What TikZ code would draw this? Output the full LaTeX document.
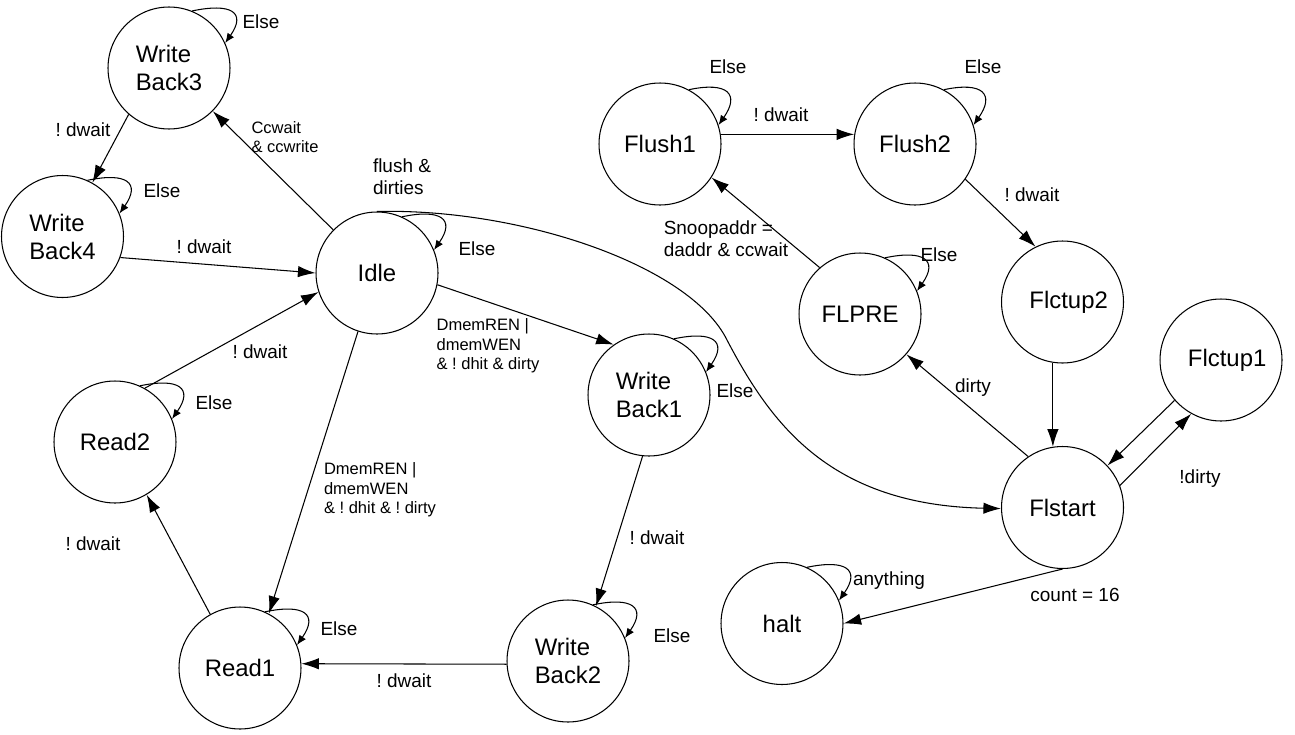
\documentclass[tikz,border=0pt]{standalone}
\usepackage{fontspec}
\setmainfont{Liberation Sans}
\usetikzlibrary{arrows.meta}
\frenchspacing

\begin{document}
\begin{tikzpicture}[x = 0.02cm, y = -0.02cm, line width = 0.6pt,
    state/.style = {shape = circle, draw, minimum size = 2.44cm, inner sep = 0pt, align = left, font = \fontsize{13.6}{15.9}\selectfont},
    trans/.style = {-{Latex[length = 10pt, width = 6.5pt]}},
    selfloop/.style = {-{Latex[length = 5.5pt, width = 4.5pt]}},
    lbl/.style = {font = \fontsize{10.8}{12.5}\selectfont, align = left, inner sep = 0pt},
    small/.style = {font = \fontsize{9.4}{11}\selectfont, align = left, inner sep = 0pt}]
    \useasboundingbox (0,0) rectangle (1295,734);

    \node[state] (WB3) at (169,68) {Write\\Back3};
    \node[state] (WB4) at (62.5,236.5) {Write\\Back4};
    \node[state] (IDLE) at (377,273) {Idle};
    \node[state] (RD2) at (115,442) {Read2};
    \node[state] (RD1) at (240,668) {Read1};
    \node[state] (WB1) at (649,395) {Write\\Back1};
    \node[state] (WB2) at (568,661) {Write\\Back2};
    \node[state] (FL1) at (660,144) {Flush1};
    \node[state] (FL2) at (915,144) {Flush2};
    \node[state] (FLPRE) at (860,314) {FLPRE};
    \node[state] (FC2) at (1062.5,302) {\hspace{7pt}Flctup2};
    \node[state] (FC1) at (1221,360) {\hspace{7pt}Flctup1};
    \node[state] (FLS) at (1062.5,507.5) {Flstart};
    \node[state] (HALT) at (782,623.5) {halt};

    \draw[selfloop] (WB3.68) .. controls +(12:0.8cm) and +(55:0.75cm) .. (WB3.24);
    \draw[selfloop] (WB4.66) .. controls +(12:0.8cm) and +(55:0.75cm) .. (WB4.22);
    \draw[selfloop] (IDLE.66) .. controls +(12:0.8cm) and +(55:0.75cm) .. (IDLE.22);
    \draw[selfloop] (RD2.66) .. controls +(12:0.8cm) and +(55:0.75cm) .. (RD2.22);
    \draw[selfloop] (RD1.66) .. controls +(12:0.8cm) and +(55:0.75cm) .. (RD1.22);
    \draw[selfloop] (WB1.66) .. controls +(12:0.8cm) and +(55:0.75cm) .. (WB1.22);
    \draw[selfloop] (WB2.66) .. controls +(12:0.8cm) and +(55:0.75cm) .. (WB2.22);
    \draw[selfloop] (FL1.62) .. controls +(12:0.8cm) and +(55:0.75cm) .. (FL1.18);
    \draw[selfloop] (FL2.62) .. controls +(12:0.8cm) and +(55:0.75cm) .. (FL2.18);
    \draw[selfloop] (FLPRE.66) .. controls +(12:0.8cm) and +(55:0.75cm) .. (FLPRE.22);
    \draw[selfloop] (HALT.66) .. controls +(12:0.8cm) and +(55:0.75cm) .. (HALT.22);

    \draw[trans] (WB3.229) -- (WB4.61);
    \draw[trans] (IDLE) -- (WB3);
    \draw[trans] (WB4.-20) -- (IDLE.180);
    \draw[trans] (RD2.61) -- (IDLE.198);
    \draw[trans] (IDLE.252) -- (RD1.62);
    \draw[trans] (RD1.119) -- (RD2.301);
    \draw[trans] (WB2.183) -- (RD1.4);
    \draw[trans] (WB1.264) -- (WB2.63);
    \draw[trans] (IDLE.-11) -- (WB1.125);
    \coordinate (BEND) at (727,340);
    \draw[trans] (IDLE.90) .. controls (520,208) and (690,265) .. (BEND)
        .. controls (771,424) and (830,505) .. (FLS.181);
    \draw[trans] (FL1.9) -- (FL2.171);
    \draw[trans] (FL2.-35) -- (FC2.116);
    \draw[trans] (FLPRE.131) -- (FL1.-33);
    \draw[trans] (FLS.124) -- (FLPRE.-41);
    \draw[trans] (FC2.261) -- (FLS.99);
    \draw[trans] (FC1.221) -- (FLS.43);
    \draw[trans] (FLS.21) -- (FC1.241);
    \draw[trans] (FLS.270) -- (HALT.0);

    \node[lbl] (L1) at (261,22) {Else};
    \node[lbl] (L2) at (83,130) {! dwait};
    \node[lbl] (L3) at (162,191) {Else};
    \node[lbl] (L4) at (204,247) {! dwait};
    \node[small] (L5) at (285,137) {Ccwait\\\& ccwrite};
    \node[lbl] (L6) at (402,177) {flush \&\\dirties};
    \node[lbl] (L7) at (477,249) {Else};
    \node[small] (L8) at (488,346) {DmemREN |\\dmemWEN\\\& ! dhit \& dirty};
    \node[lbl] (L9) at (735,391) {Else};
    \node[lbl] (L10) at (260,352) {! dwait};
    \node[lbl] (L11) at (214,403) {Else};
    \node[small] (L12) at (380,490) {DmemREN |\\dmemWEN\\\& ! dhit \& ! dirty};
    \node[lbl] (L13) at (93,544) {! dwait};
    \node[lbl] (L14) at (339,629) {Else};
    \node[lbl] (L15) at (404,681) {! dwait};
    \node[lbl] (L16) at (657,538) {! dwait};
    \node[lbl] (L17) at (672,636) {Else};
    \node[lbl] (L18) at (728,67) {Else};
    \node[lbl] (L19) at (781,115) {! dwait};
    \node[lbl] (L20) at (983,67) {Else};
    \node[lbl] (L21) at (726,239) {Snoopaddr =\\daddr \& ccwait};
    \node[lbl] (L22) at (939,255) {Else};
    \node[lbl] (L23) at (973,388) {dirty};
    \node[lbl] (L24) at (1032,195) {! dwait};
    \node[lbl] (L25) at (1200,479) {!dirty};
    \node[lbl] (L26) at (1075,595) {count = 16};
    \node[lbl] (L27) at (889,581) {anything};
\end{tikzpicture}
\end{document}
